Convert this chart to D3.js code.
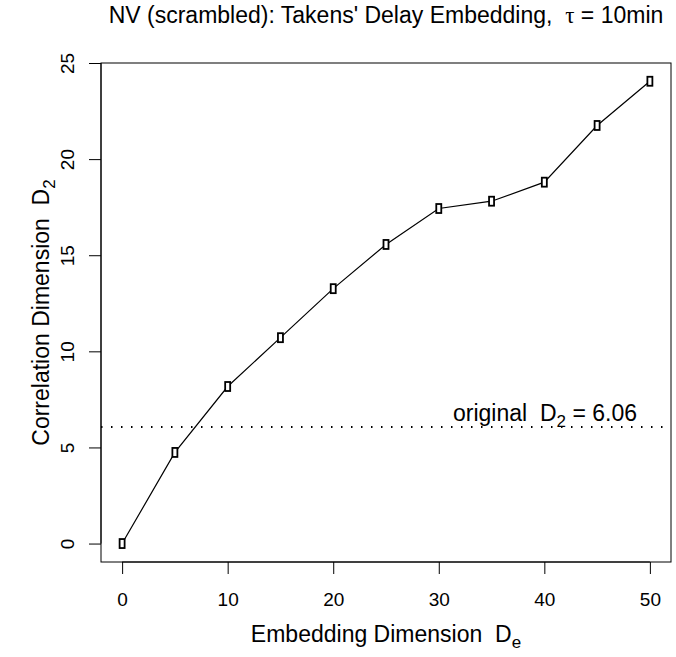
<!DOCTYPE html>
<html>
<head>
<meta charset="utf-8">
<script src="https://cdn.jsdelivr.net/npm/d3@7"></script>
<style>
  body { margin: 0; background: #fff; }
  svg { display: block; font-family: "Liberation Sans", Arial, sans-serif; }
  text { white-space: pre; }
</style>
</head>
<body>
<div id="chart"></div>
<script>
// embedding dimension vs correlation dimension
const embedDims = [0, 5, 10, 15, 20, 25, 30, 35, 40, 45, 50];
const corrDims = [0.0, 4.74, 8.17, 10.71, 13.26, 15.56, 17.43, 17.81, 18.80, 21.75, 24.05];
const originalD2 = 6.06;
const xTicks = [0, 10, 20, 30, 40, 50];
const yTicks = [0, 5, 10, 15, 20, 25];

const W = 676, H = 657;
const margin = {top: 63, right: 5, bottom: 95, left: 101};
const fam = "Liberation Sans, Arial, sans-serif";

const svg = d3.select("#chart").append("svg")
    .attr("width", W)
    .attr("height", H);

const x = d3.scaleLinear().domain([-2, 52]).range([margin.left, W - margin.right]);
const y = d3.scaleLinear().domain([-0.96, 25.0]).range([H - margin.bottom, margin.top]);

// plot box
svg.append("rect")
    .attr("x", margin.left)
    .attr("y", margin.top)
    .attr("width", W - margin.right - margin.left)
    .attr("height", H - margin.bottom - margin.top)
    .attr("fill", "none")
    .attr("stroke", "#000")
    .attr("stroke-width", 1);

// axes
const xAxis = svg.append("g")
    .attr("transform", "translate(0," + (H - margin.bottom) + ")")
    .call(d3.axisBottom(x).tickValues(xTicks).tickSize(12).tickSizeOuter(0));
xAxis.select(".domain").attr("d", "M" + x(0) + ",0H" + x(50));
xAxis.selectAll(".tick text")
    .attr("font-size", 19)
    .attr("font-family", fam)
    .attr("y", 44)
    .attr("dy", 0);

const yAxis = svg.append("g")
    .attr("transform", "translate(" + margin.left + ",0)")
    .call(d3.axisLeft(y).tickValues(yTicks).tickSize(12).tickSizeOuter(0));
yAxis.select(".domain").attr("d", "M0," + y(0) + "V" + y(25));
yAxis.selectAll(".tick text")
    .attr("font-size", 19)
    .attr("font-family", fam)
    .attr("text-anchor", "middle")
    .attr("x", 0)
    .attr("dy", 0)
    .attr("transform", "translate(-27.5,0) rotate(-90)");

// reference line
svg.append("line")
    .attr("x1", margin.left)
    .attr("x2", W - margin.right)
    .attr("y1", y(originalD2))
    .attr("y2", y(originalD2))
    .attr("stroke", "#000")
    .attr("stroke-width", 2)
    .attr("stroke-dasharray", "1.5,8.5");

const note = svg.append("text")
    .attr("x", 545)
    .attr("y", 421)
    .attr("text-anchor", "middle")
    .attr("font-size", 23);
note.append("tspan").text("original  D");
note.append("tspan").attr("font-size", 17).attr("dy", 6).text("2");
note.append("tspan").attr("dy", -6).text(" = 6.06");

// line + markers
const pts = embedDims.map((d, i) => ({de: d, d2: corrDims[i]}));

svg.append("path")
    .datum(pts)
    .attr("fill", "none")
    .attr("stroke", "#000")
    .attr("stroke-width", 1.2)
    .attr("d", d3.line().x(d => x(d.de)).y(d => y(d.d2)));

svg.selectAll(".pt")
    .data(pts)
    .enter().append("rect")
    .attr("class", "pt")
    .attr("x", d => x(d.de) - 2.5)
    .attr("y", d => y(d.d2) - 4.5)
    .attr("width", 5)
    .attr("height", 9)
    .attr("fill", "#fff")
    .attr("stroke", "#000")
    .attr("stroke-width", 1.8);

// titles
const title = svg.append("text")
    .attr("x", (margin.left + W - margin.right) / 2)
    .attr("y", 23)
    .attr("text-anchor", "middle")
    .attr("font-size", 23);
title.append("tspan").text("NV (scrambled): Takens' Delay Embedding,  ");
title.append("tspan").attr("font-family", "Liberation Serif, DejaVu Serif, serif").attr("font-size", 23).text("\u03C4");
title.append("tspan").text(" = 10min");

const xlab = svg.append("text")
    .attr("x", (margin.left + W - margin.right) / 2)
    .attr("y", 642)
    .attr("text-anchor", "middle")
    .attr("font-size", 23);
xlab.append("tspan").text("Embedding Dimension  D");
xlab.append("tspan").attr("font-size", 17).attr("dy", 6).text("e");

const ylab = svg.append("text")
    .attr("transform", "translate(49," + ((margin.top + H - margin.bottom) / 2) + ") rotate(-90)")
    .attr("text-anchor", "middle")
    .attr("font-size", 23);
ylab.append("tspan").text("Correlation Dimension  D");
ylab.append("tspan").attr("font-size", 17).attr("dy", 6).text("2");
</script>
</body>
</html>
